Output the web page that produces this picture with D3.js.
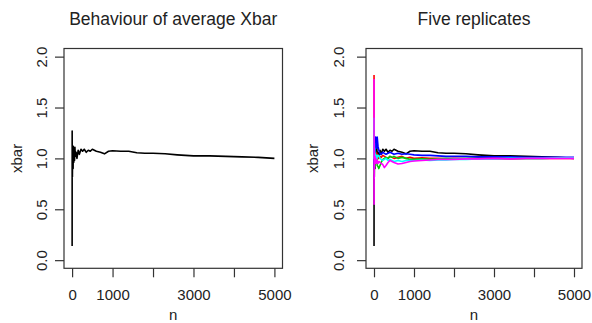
<!DOCTYPE html>
<html>
<head>
<meta charset="utf-8">
<script src="https://cdn.jsdelivr.net/npm/d3@7"></script>
<style>
  body { margin: 0; background: #fff; }
  text { font-family: "Liberation Sans", Arial, sans-serif; fill: #222; }
</style>
</head>
<body>
<svg id="chart" width="592" height="323"></svg>
<script>
var nVals = [1, 2, 3, 5, 8, 12, 16, 20, 25, 30, 40, 50, 60, 70, 80, 100, 120, 150, 180, 220,
             260, 300, 350, 400, 450, 500, 600, 700, 800, 900, 1000, 1200, 1400, 1600, 1800,
             2000, 2300, 2600, 3000, 3400, 3800, 4200, 4600, 5000];

// running xbar, first sample (black, also left panel)
var xbarBlack = [0.14, 1.27, 0.85, 1.05, 0.82, 1.10, 0.95, 1.08, 0.90, 1.12, 0.96, 1.10, 0.98, 1.11, 1.02,
                 1.06, 1.00, 1.08, 1.04, 1.09, 1.07, 1.09, 1.06, 1.08, 1.07, 1.09, 1.07, 1.06, 1.045, 1.07,
                 1.075, 1.07, 1.07, 1.055, 1.05, 1.05, 1.045, 1.035, 1.025, 1.025, 1.02, 1.015, 1.01, 1.0];
// replicates
var xbarRed = [1.82, 1.30, 1.10, 1.20, 1.00, 1.08, 1.03, 1.06, 1.00, 1.05, 1.02, 1.06, 1.03, 1.05, 1.02,
               1.03, 1.00, 1.02, 1.01, 1.03, 1.02, 1.01, 1.00, 1.02, 1.01, 1.00, 1.01, 1.02, 1.00, 1.01,
               1.00, 1.005, 1.0, 1.0, 0.995, 1.0, 0.995, 1.0, 1.0, 0.995, 1.0, 1.0, 1.0, 1.0];
var xbarGreen = [0.95, 1.20, 0.85, 1.10, 0.90, 1.05, 0.95, 1.00, 0.92, 1.02, 0.95, 1.03, 0.97, 1.00, 0.93,
                 0.92, 0.90, 0.93, 0.96, 0.99, 1.00, 1.01, 1.00, 1.02, 1.01, 1.02, 1.00, 1.01, 1.00, 0.99,
                 0.99, 0.995, 0.99, 0.995, 1.0, 0.995, 1.0, 1.0, 1.0, 1.0, 1.0, 1.0, 1.005, 1.005];
var xbarBlue = [1.00, 0.90, 1.10, 1.00, 1.15, 1.05, 1.12, 1.00, 1.08, 1.10, 1.21, 1.15, 1.20, 1.10, 1.21,
                1.12, 1.08, 1.05, 1.04, 1.06, 1.05, 1.04, 1.05, 1.06, 1.05, 1.04, 1.05, 1.04, 1.045, 1.04,
                1.035, 1.03, 1.03, 1.025, 1.02, 1.02, 1.02, 1.015, 1.015, 1.015, 1.01, 1.01, 1.01, 1.01];
var xbarCyan = [1.40, 1.00, 1.25, 1.10, 1.15, 1.05, 1.10, 1.00, 1.05, 1.00, 1.04, 0.98, 1.02, 1.00, 1.03,
                1.02, 1.03, 1.00, 0.99, 0.98, 0.99, 1.00, 0.98, 0.99, 0.98, 0.97, 0.98, 0.97, 0.98, 0.98,
                0.98, 0.985, 0.98, 0.985, 0.985, 0.99, 0.99, 0.995, 0.995, 1.0, 1.0, 1.0, 1.005, 1.005];
var xbarMagenta = [1.78, 0.55, 1.20, 0.80, 1.05, 0.90, 1.00, 0.95, 1.02, 0.97, 1.00, 0.95, 0.99, 0.96, 0.98,
                   0.95, 0.97, 0.96, 0.95, 0.94, 0.91, 0.93, 0.96, 0.98, 0.97, 0.96, 0.945, 0.95, 0.96, 0.97,
                   0.975, 0.98, 0.985, 0.99, 0.99, 0.99, 0.995, 0.995, 1.0, 0.995, 1.0, 1.0, 1.0, 1.0];

var xTicks = [0, 1000, 2000, 3000, 4000, 5000];
var xLabels = [0, 1000, 3000, 5000];   // R drops the ones that would overlap
var yTicks = [0, 0.5, 1, 1.5, 2];

var svg = d3.select("#chart");

// one panel = one R plot(): box, axes, titles and lines
function panel(opts) {
  var g = svg.append("g");
  // R pads the data range by 4% on each side
  var x = d3.scaleLinear().domain([-200, 5200]).range([opts.left, opts.right]);
  var y = d3.scaleLinear().domain([-0.08, 2.08]).range([opts.bottom, opts.top]);

  var line = d3.line()
    .x(function(d, i) { return x(nVals[i]); })
    .y(function(d) { return y(d); });

  opts.series.forEach(function(s) {
    g.append("path").datum(s.values)
      .attr("d", line)
      .style("fill", "none")
      .style("stroke", s.color)
      .style("stroke-width", "1.6px")
      .style("stroke-linejoin", "round");
  });

  // box
  g.append("rect")
    .attr("x", opts.left).attr("y", opts.top)
    .attr("width", opts.right - opts.left).attr("height", opts.bottom - opts.top)
    .style("fill", "none").style("stroke", "#333").style("stroke-width", "1.2px");

  // x axis
  var xAxisEl = g.append("g")
    .attr("transform", "translate(0," + opts.bottom + ")")
    .call(d3.axisBottom(x).tickValues(xTicks).tickSize(9)
      .tickFormat(function(d) { return xLabels.indexOf(d) >= 0 ? d : ""; }));
  xAxisEl.select(".domain").remove();
  xAxisEl.selectAll("line").style("stroke", "#333").style("stroke-width", "1.2px");
  xAxisEl.selectAll("text")
    .attr("y", 32).attr("dy", 0)
    .style("font-size", "15px").style("fill", "#222");

  // y axis, labels parallel to the axis
  var yAxisEl = g.append("g")
    .attr("transform", "translate(" + opts.left + ",0)")
    .call(d3.axisLeft(y).tickValues(yTicks).tickSize(9).tickFormat(d3.format(".1f")));
  yAxisEl.select(".domain").remove();
  yAxisEl.selectAll("line").style("stroke", "#333").style("stroke-width", "1.2px");
  yAxisEl.selectAll("text")
    .attr("transform", "rotate(-90)")
    .attr("x", 0).attr("y", -opts.yLabGap).attr("dy", 0)
    .attr("text-anchor", "middle")
    .style("font-size", "15px").style("fill", "#222");

  var cx = (opts.left + opts.right) / 2;
  var cy = (opts.top + opts.bottom) / 2;

  g.append("text")
    .attr("x", cx).attr("y", 25)
    .attr("text-anchor", "middle")
    .style("font-size", "17.5px")
    .text(opts.title);

  g.append("text")
    .attr("x", cx).attr("y", 320)
    .attr("text-anchor", "middle")
    .style("font-size", "15px")
    .text("n");

  g.append("text")
    .attr("transform", "translate(" + opts.yTitleX + "," + cy + ") rotate(-90)")
    .attr("text-anchor", "middle")
    .style("font-size", "15px")
    .text("xbar");
}

panel({
  left: 64, right: 282.5, top: 48.5, bottom: 268.3,
  yLabGap: 17, yTitleX: 22,
  title: "Behaviour of average Xbar",
  series: [{ values: xbarBlack, color: "#000" }]
});

panel({
  left: 366, right: 582, top: 48.5, bottom: 268.3,
  yLabGap: 22, yTitleX: 318,
  title: "Five replicates",
  series: [
    { values: xbarBlack, color: "#000" },
    { values: xbarRed, color: "#ff0000" },
    { values: xbarGreen, color: "#00cd00" },
    { values: xbarBlue, color: "#0000ff" },
    { values: xbarCyan, color: "#00ffff" },
    { values: xbarMagenta, color: "#ff00ff" }
  ]
});
</script>
</body>
</html>
